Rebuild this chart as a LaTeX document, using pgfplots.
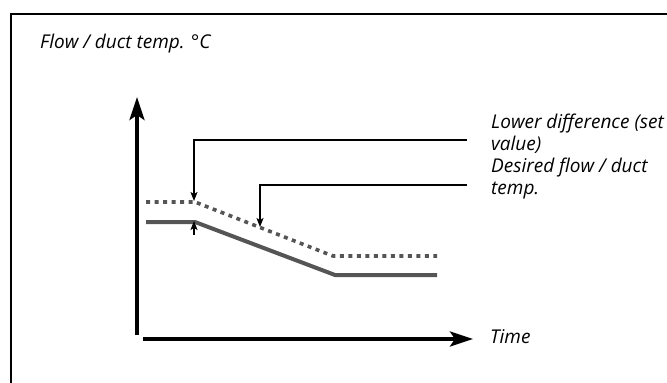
\documentclass[border=0pt]{standalone}
\usepackage{fontspec}
\setmainfont{Open Sans}
\usepackage{pgfplots}
\pgfplotsset{compat=1.18}
\usetikzlibrary{arrows.meta}
\definecolor{linegray}{HTML}{555555}
\begin{document}
\begin{tikzpicture}
\begin{axis}[
  scale only axis, width=667pt, height=383pt,
  xmin=0, xmax=667, ymin=0, ymax=383, y dir=reverse,
  hide axis, clip=false,
]
% frame
\addplot[black, line width=2pt] coordinates {(11,383) (11,14) (667,14)};
% axes
\addplot[black, line width=3.8pt, -{Stealth[length=23pt,width=15pt,inset=5pt]}] coordinates {(137,335) (137,97)};
\addplot[black, line width=3.8pt, -{Stealth[length=23pt,width=15pt,inset=5pt]}] coordinates {(143,339) (473,339)};
% desired (solid) and dashed lines
\addplot[linegray, line width=4pt] coordinates {(146,222) (195,222) (335,275) (437,275)};
\addplot[linegray, line width=3.6pt, dash pattern=on 4pt off 4.5pt] coordinates {(146,202) (195,202) (333,256) (437,256)};
% leader lines
\addplot[black, line width=1.2pt, -{Stealth[length=9pt,width=7pt,inset=2pt]}] coordinates {(467,140) (194,140) (194,201)};
\addplot[black, line width=1.2pt, -{Stealth[length=9pt,width=7pt,inset=2pt]}] coordinates {(194,235) (194,221)};
\addplot[black, line width=1.2pt, -{Stealth[length=9pt,width=7pt,inset=2pt]}] coordinates {(467,185) (260,185) (260,227)};
% texts
\node[anchor=base west, inner sep=0pt, font=\fontsize{19}{22}\selectfont\itshape] at (axis cs:40,48) {Flow / duct temp. °C};
\node[anchor=base west, inner sep=0pt, font=\fontsize{19}{22}\selectfont\itshape] at (axis cs:491,128) {Lower difference (set};
\node[anchor=base west, inner sep=0pt, font=\fontsize{19}{22}\selectfont\itshape] at (axis cs:491,150) {value)};
\node[anchor=base west, inner sep=0pt, font=\fontsize{19}{22}\selectfont\itshape] at (axis cs:491,172) {Desired flow / duct};
\node[anchor=base west, inner sep=0pt, font=\fontsize{19}{22}\selectfont\itshape] at (axis cs:491,194) {temp.};
\node[anchor=base west, inner sep=0pt, font=\fontsize{19}{22}\selectfont\itshape] at (axis cs:490,343) {Time};
\coordinate (bl) at (axis cs:0,383);
\coordinate (tr) at (axis cs:667,0);
\end{axis}
\pgfresetboundingbox
\useasboundingbox (bl) rectangle (tr);
\end{tikzpicture}
\end{document}
